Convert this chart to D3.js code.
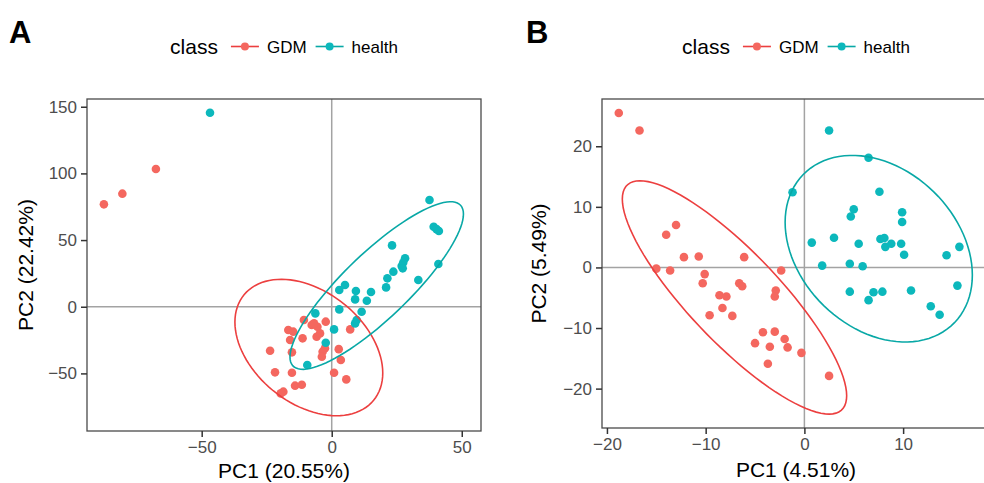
<!DOCTYPE html>
<html lang="en">
<head>
  <meta charset="utf-8">
  <script src="https://cdn.jsdelivr.net/npm/d3@7"></script>
  <style>
    body {
      margin: 0;
      background: #fff;
      font-family: "Liberation Sans", Arial, sans-serif;
    }

    .tick-label {
      font-size: 17px;
      fill: #4d4d4d;
    }

    .axis-title {
      font-size: 21px;
      fill: #000;
    }

    .legend-title {
      font-size: 21px;
      fill: #000;
    }

    .legend-label {
      font-size: 17px;
      fill: #000;
    }

    .panel-tag {
      font-size: 31px;
      font-weight: bold;
      fill: #000;
    }
  </style>
</head>
<body>
<div id="chart"></div>
<script>
  // ---- data ----
  var classes = ["GDM", "health"];

  // panel A scores (PC1, PC2)
  var gdmA = [
    [-87.6, 76.8], [-80.5, 84.8], [-67.6, 103.3],
    [-10.7, -10], [-7.7, -13.7], [-5.5, -15], [-2.3, -11.2], [-6.8, -12.5],
    [-16.7, -17.5], [-14.8, -18.7], [-16, -25], [-11.2, -23.7], [-5.8, -22.5], [-4.5, -20],
    [7.1, -17], [-23.7, -33], [-15.3, -34.2], [-2.6, -31.2], [-3.5, -33.7], [-3.8, -37.5],
    [2.7, -31.8], [3.5, -40], [-21.8, -49.2], [-15.3, -49.5], [0.9, -49.5], [5.6, -54.5],
    [-14.1, -59.2], [-11.5, -58.5], [-18.6, -63.7], [-19.6, -65]
  ];
  var healthA = [
    [-46.8, 145.5], [37.6, 80], [39.2, 60], [40.3, 58.2], [41.2, 56.8], [41, 32],
    [23.2, 46], [28.2, 36.3], [27.5, 33.2], [26.9, 30.5], [27.3, 28.8], [23.7, 26.3],
    [21.4, 21.3], [20.9, 14.5], [33.3, 20], [5.1, 16.3], [2.9, 12.5], [9.3, 11.8],
    [15.1, 11], [9, 5.5], [13.5, 4.5], [2.9, -2], [-6.3, -5], [11.5, -3.8],
    [9.6, -10], [9, -12.5], [0.9, -17], [-2.3, -27], [-9.4, -43.7]
  ];

  // panel B scores (PC1, PC2)
  var gdmB = [
    [-18.8, 25.5], [-16.7, 22.6], [-13, 7.0], [-14, 5.4], [-12.2, 1.7], [-10.7, 1.8],
    [-6.1, 1.7], [-15, -0.2], [-13.6, -0.5], [-2.35, -0.5], [-10.1, -1.1], [-10.3, -2.6],
    [-6.6, -2.6], [-6.3, -3.1], [-2.9, -3.8], [-3.0, -4.8], [-8.6, -4.6], [-7.9, -4.8],
    [-8.3, -6.7], [-9.6, -7.9], [-7.3, -8.0], [-4.2, -10.7], [-3.0, -10.6], [-2.0, -11.8],
    [-5.0, -12.5], [-3.5, -13.1], [-1.7, -13.2], [-0.3, -14.1], [-3.7, -15.9], [2.5, -17.9]
  ];
  var healthB = [
    [2.5, 22.6], [6.5, 18.1], [-1.2, 12.4], [7.6, 12.5], [5.0, 9.6], [4.7, 8.4],
    [9.9, 9.1], [9.9, 7.5], [0.75, 4.1], [3.0, 4.9], [5.5, 3.9], [7.7, 4.7], [8.1, 4.85],
    [8.2, 3.4], [8.8, 3.9], [9.8, 3.9], [10.1, 2.1], [14.4, 2.0], [15.7, 3.4],
    [1.8, 0.3], [4.6, 0.6], [5.9, 0.2], [4.6, -4.0], [7.0, -4.1], [7.9, -4.0],
    [6.5, -5.4], [10.8, -3.8], [15.5, -3.0], [12.8, -6.4], [13.7, -7.8]
  ];

  // confidence ellipses: centre + shape matrix (data units)
  var ellipsesA = [
    {cls: "GDM", cx: -8.8, cy: -30.6, sxx: 808, sxy: -542, syy: 2617},
    {cls: "health", cx: 17.3, cy: 15.9, sxx: 1112, sxy: 1788, syy: 3951}
  ];
  var ellipsesB = [
    {cls: "GDM", cx: -7.08, cy: -4.95, sxx: 129.1, sxy: -184.4, syy: 370.9},
    {cls: "health", cx: 7.53, cy: 3.09, sxx: 89.9, sxy: -41.3, syy: 237.1}
  ];

  var ticksAx = [-50, 0, 50];
  var ticksAy = [-50, 0, 50, 100, 150];
  var ticksBx = [-20, -10, 0, 10];
  var ticksBy = [-20, -10, 0, 10, 20];

  var domainAx = [-94.1, 57.4], domainAy = [-93.2, 155.8];
  var domainBx = [-20.5, 18.8], domainBy = [-26.5, 27.8];

  // ---- drawing ----
  var pointColor = d3.scaleOrdinal().domain(classes).range(["#f4675f", "#0cb8bc"]);
  var lineColor = d3.scaleOrdinal().domain(classes).range(["#ec3f3f", "#08a8a6"]);

  var svg = d3.select("#chart").append("svg")
          .attr("width", 984)
          .attr("height", 483);

  function ellipsePoints(e) {
    // cholesky of shape matrix, then unit circle mapped through it
    var l11 = Math.sqrt(e.sxx), l21 = e.sxy / l11, l22 = Math.sqrt(e.syy - l21 * l21);
    return d3.range(0, 101).map(function (i) {
      var t = i / 100 * 2 * Math.PI, u = Math.cos(t), v = Math.sin(t);
      return [e.cx + l11 * u, e.cy + l21 * u + l22 * v];
    });
  }

  function drawPanel(cfg) {
    var g = svg.append("g");
    var x = d3.scaleLinear().domain(cfg.xDomain).range([cfg.left, cfg.right]);
    var y = d3.scaleLinear().domain(cfg.yDomain).range([cfg.bottom, cfg.top]);

    // zero reference lines
    g.append("line")
            .attr("x1", x(0)).attr("x2", x(0))
            .attr("y1", cfg.top).attr("y2", cfg.bottom)
            .attr("stroke", "#a3a3a3").attr("stroke-width", 1.5);
    g.append("line")
            .attr("x1", cfg.left).attr("x2", cfg.right)
            .attr("y1", y(0)).attr("y2", y(0))
            .attr("stroke", "#a3a3a3").attr("stroke-width", 1.5);

    // points
    cfg.series.forEach(function (s) {
      g.selectAll(null)
              .data(s.values)
              .enter().append("circle")
              .attr("cx", function (d) { return x(d[0]); })
              .attr("cy", function (d) { return y(d[1]); })
              .attr("r", 4.3)
              .attr("fill", pointColor(s.cls));
    });

    // ellipses
    var line = d3.line()
            .x(function (d) { return x(d[0]); })
            .y(function (d) { return y(d[1]); })
            .curve(d3.curveLinearClosed);
    g.selectAll(null)
            .data(cfg.ellipses)
            .enter().append("path")
            .attr("d", function (e) { return line(ellipsePoints(e)); })
            .attr("fill", "none")
            .attr("stroke", function (e) { return lineColor(e.cls); })
            .attr("stroke-width", 1.6);

    // panel border
    g.append("rect")
            .attr("x", cfg.left).attr("y", cfg.top)
            .attr("width", cfg.right - cfg.left)
            .attr("height", cfg.bottom - cfg.top)
            .attr("fill", "none")
            .attr("stroke", "#4a4a4a")
            .attr("stroke-width", 1.3);

    // x axis
    var xAxis = d3.axisBottom(x).tickValues(cfg.xTicks).tickSize(6).tickPadding(4)
            .tickFormat(function (d) { return d3.format("")(d).replace("-", "\u2212"); });
    var gx = g.append("g").attr("transform", "translate(0," + cfg.bottom + ")").call(xAxis);
    gx.select(".domain").remove();
    gx.selectAll(".tick line").attr("stroke", "#333").attr("stroke-width", 1.5);
    gx.selectAll(".tick text").attr("class", "tick-label").attr("font-family", null).attr("font-size", null);

    // y axis
    var yAxis = d3.axisLeft(y).tickValues(cfg.yTicks).tickSize(6).tickPadding(4)
            .tickFormat(function (d) { return d3.format("")(d).replace("-", "\u2212"); });
    var gy = g.append("g").attr("transform", "translate(" + cfg.left + ",0)").call(yAxis);
    gy.select(".domain").remove();
    gy.selectAll(".tick line").attr("stroke", "#333").attr("stroke-width", 1.5);
    gy.selectAll(".tick text").attr("class", "tick-label").attr("font-family", null).attr("font-size", null);

    // axis titles
    g.append("text")
            .attr("class", "axis-title")
            .attr("x", (cfg.left + cfg.right) / 2)
            .attr("y", cfg.xTitleY)
            .attr("text-anchor", "middle")
            .text(cfg.xTitle);
    g.append("text")
            .attr("class", "axis-title")
            .attr("transform", "translate(" + cfg.yTitleX + "," + (cfg.top + cfg.bottom) / 2 + ") rotate(-90)")
            .attr("text-anchor", "middle")
            .text(cfg.yTitle);

    // panel tag
    g.append("text")
            .attr("class", "panel-tag")
            .attr("x", cfg.tagX).attr("y", 43)
            .text(cfg.tag);

    // legend, centred over the panel
    var lg = g.append("g");
    var cursor = 0;
    var title = lg.append("text").attr("class", "legend-title")
            .attr("x", cursor).attr("y", 54).text("class");
    cursor += title.node().getComputedTextLength() + 13;
    classes.forEach(function (c, i) {
      lg.append("line")
              .attr("x1", cursor).attr("x2", cursor + 28)
              .attr("y1", 46.5).attr("y2", 46.5)
              .attr("stroke", lineColor(c)).attr("stroke-width", 1.6);
      lg.append("circle")
              .attr("cx", cursor + 14).attr("cy", 46.5).attr("r", 4)
              .attr("fill", pointColor(c));
      cursor += 36;
      var t = lg.append("text").attr("class", "legend-label")
              .attr("x", cursor).attr("y", 53).text(c);
      cursor += t.node().getComputedTextLength() + (i === 0 ? 9 : 0);
    });
    var mid = (cfg.left + cfg.right) / 2;
    lg.attr("transform", "translate(" + (mid - cursor / 2) + ",0)");
  }

  drawPanel({
    tag: "A", tagX: 9,
    left: 87, right: 481, top: 99, bottom: 431,
    xDomain: domainAx, yDomain: domainAy,
    xTicks: ticksAx, yTicks: ticksAy,
    xTitle: "PC1 (20.55%)", yTitle: "PC2 (22.42%)",
    xTitleY: 478, yTitleX: 33,
    series: [{cls: "GDM", values: gdmA}, {cls: "health", values: healthA}],
    ellipses: ellipsesA
  });

  drawPanel({
    tag: "B", tagX: 526,
    left: 602, right: 990, top: 99, bottom: 428,
    xDomain: domainBx, yDomain: domainBy,
    xTicks: ticksBx, yTicks: ticksBy,
    xTitle: "PC1 (4.51%)", yTitle: "PC2 (5.49%)",
    xTitleY: 477, yTitleX: 546,
    series: [{cls: "GDM", values: gdmB}, {cls: "health", values: healthB}],
    ellipses: ellipsesB
  });
</script>
</body>
</html>
